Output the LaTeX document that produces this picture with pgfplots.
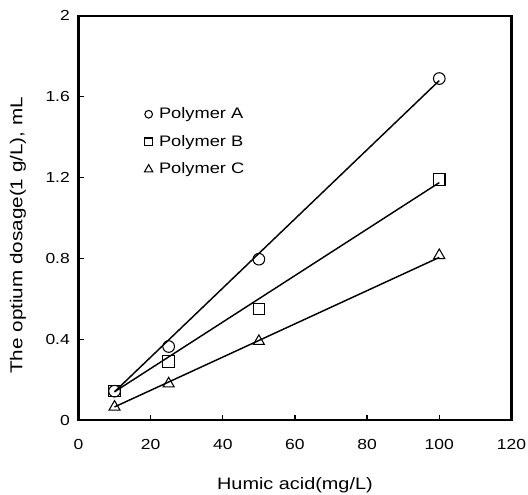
\documentclass[border=0pt]{standalone}
\usepackage{fontspec}
\setmainfont{Liberation Sans}[FakeStretch=1.2]
\usepackage{pgfplots}
\pgfplotsset{compat=1.18}
\begin{document}
\begin{tikzpicture}
\begin{axis}[
  at={(0,0)}, anchor=south west, scale only axis,
  width=327pt, height=305.25pt,
  xmin=0, xmax=120, ymin=0, ymax=2,
  xtick={0,20,40,60,80,100,120},
  ytick={0,0.4,0.8,1.2,1.6,2},
  yticklabels={0,0.4,0.8,1.2,1.6,2},
  tick pos=left, tick align=inside, major tick length=4pt,
  axis line style={line width=1.8pt},
  every tick/.style={line width=1pt, black},
  /pgf/number format/assume math mode=true,
  ticklabel style={font=\fontsize{11}{13}\selectfont},
  xticklabel style={yshift=-11pt},
  yticklabel style={xshift=-3pt},
  xlabel={Humic acid(mg/L)},
  ylabel={The optium dosage(1 g/L), mL},
  xlabel style={font=\fontsize{12.5}{14}\selectfont, at={(axis description cs:0.5,-0.162)}, anchor=center},
  ylabel style={font=\fontsize{13}{15}\selectfont, at={(axis description cs:-0.14,0.457)}, anchor=center},
  legend style={draw=none, fill=none, at={(axis description cs:0.152,0.78)}, anchor=north west,
    font=\fontsize{11.5}{13}\selectfont, row sep=7pt, inner sep=0pt},
  legend cell align=left,
  legend image code/.code={\draw[mark size=2.9pt, line width=0.6pt] plot coordinates {(0.1cm,0cm)};\path (8.5pt,0);},
]
\addplot[black, line width=1.1pt, forget plot] coordinates {(10,0.14) (100,1.68)};
\addplot[black, line width=1.1pt, forget plot] coordinates {(10,0.14) (100,1.175)};
\addplot[black, line width=1.1pt, forget plot] coordinates {(10,0.065) (100,0.805)};
\addplot[black, only marks, mark=o, mark size=4.4pt, mark options={line width=0.8pt, fill=white}]
  coordinates {(10,0.143) (25,0.364) (50,0.796) (100,1.69)};
\addlegendentry{Polymer A}
\addplot[black, only marks, mark=square, mark size=4.3pt, mark options={line width=0.8pt}]
  coordinates {(10,0.143) (25,0.29) (50,0.55) (100,1.19)};
\addlegendentry{Polymer B}
\addplot[black, only marks, mark=triangle, mark size=4.8pt, mark options={line width=0.8pt},
  legend image code/.code={\draw[mark size=3.6pt, line width=0.6pt] plot coordinates {(0.1cm,0cm)};\path (8.5pt,0);}]
  coordinates {(10,0.065) (25,0.18) (50,0.39) (100,0.815)};
\addlegendentry{Polymer C}
\end{axis}
\pgfresetboundingbox
\path[use as bounding box] (-59.25pt,-56.25pt) rectangle (339.5pt,317.25pt);
\end{tikzpicture}
\end{document}
